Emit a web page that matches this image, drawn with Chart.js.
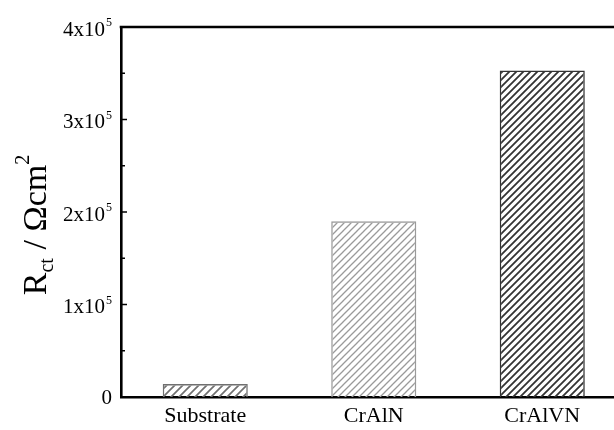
<!DOCTYPE html>
<html>
<head>
<meta charset="utf-8">
<script src="https://cdn.jsdelivr.net/npm/chart.js@4/dist/chart.umd.min.js"></script>
<style>
  html, body { margin: 0; padding: 0; background: #fff; overflow: hidden; }
  #wrap { width: 630px; height: 430px; }
</style>
</head>
<body>
<div id="wrap"><canvas id="c" width="630" height="430"></canvas></div>
<script>
  // data
  var categories = ['Substrate', 'CrAlN', 'CrAlVN'];
  var rctValues = [14000, 190000, 353000];
  var yMajorTicks = [0, 100000, 200000, 300000, 400000];
  var yMajorLabels = ['0', '1x10', '2x10', '3x10', '4x10'];
  var yLabelExp = ['', '5', '5', '5', '5'];

  var hatchColors = ['#707070', '#9a9a9a', '#333333'];
  var hatchGaps = [8, 7, 7];
  var hatchWidths = [1.7, 1.3, 1.8];
  var SERIF = "'Liberation Serif', 'Times New Roman', serif";

  function hatch(color, gap, lw) {
    var c = document.createElement('canvas');
    c.width = gap; c.height = gap;
    var g = c.getContext('2d');
    g.strokeStyle = color;
    g.lineWidth = lw;
    g.beginPath();
    g.moveTo(-1, gap + 1); g.lineTo(gap + 1, -1);
    g.moveTo(-2, 2); g.lineTo(2, -2);
    g.moveTo(gap - 2, gap + 2); g.lineTo(gap + 2, gap - 2);
    g.stroke();
    return document.getElementById('c').getContext('2d').createPattern(c, 'repeat');
  }

  // frame, inward ticks, tick labels and axis title
  var decor = {
    id: 'decor',
    afterDraw: function(ch) {
      var ctx = ch.ctx, a = ch.chartArea, y = ch.scales.y;
      ctx.save();
      ctx.strokeStyle = '#000';
      ctx.lineWidth = 2.6;
      ctx.beginPath();
      ctx.moveTo(a.left - 1.3, a.top);
      ctx.lineTo(ch.width, a.top);
      ctx.stroke();

      ctx.lineWidth = 1.6;
      ctx.beginPath();
      for (var v = 50000; v < 400000; v += 50000) {
        var py = y.getPixelForValue(v);
        var len = (v % 100000 === 0) ? 6 : 4;
        ctx.moveTo(a.left, py); ctx.lineTo(a.left + len, py);
      }
      ctx.stroke();

      ctx.fillStyle = '#000';
      yMajorTicks.forEach(function(v, i) {
        var py = y.getPixelForValue(v);
        var right = 112;
        ctx.textBaseline = 'middle';
        ctx.textAlign = 'right';
        if (yLabelExp[i]) {
          ctx.font = '12px ' + SERIF;
          ctx.fillText(yLabelExp[i], right, py - 4);
          var ew = ctx.measureText(yLabelExp[i]).width;
          ctx.font = '21px ' + SERIF;
          ctx.fillText(yMajorLabels[i], right - ew - 1, py + 3);
        } else {
          ctx.font = '21px ' + SERIF;
          ctx.fillText(yMajorLabels[i], right, py + 1);
        }
      });

      // rotated title: R_ct / Ωcm^2
      ctx.translate(35, 225);
      ctx.rotate(-Math.PI / 2);
      var parts = [
        { t: 'R', f: 34, dy: 0 },
        { t: 'ct', f: 20, dy: 7 },
        { t: ' / \u03A9cm', f: 34, dy: 0 },
        { t: '2', f: 20, dy: -17 }
      ];
      var total = 0;
      parts.forEach(function(p) { ctx.font = p.f + 'px ' + SERIF; p.w = ctx.measureText(p.t).width; total += p.w; });
      var x = -total / 2;
      ctx.textAlign = 'left';
      ctx.textBaseline = 'alphabetic';
      parts.forEach(function(p) {
        ctx.font = p.f + 'px ' + SERIF;
        ctx.fillText(p.t, x, 11 + p.dy);
        x += p.w;
      });
      ctx.restore();
    }
  };

  new Chart(document.getElementById('c'), {
    type: 'bar',
    data: {
      labels: categories,
      datasets: [{
        data: rctValues,
        backgroundColor: hatchColors.map(function(c, i) { return hatch(c, hatchGaps[i], hatchWidths[i]); }),
        borderColor: hatchColors,
        borderWidth: 1.4,
        barPercentage: 0.505,
        categoryPercentage: 1
      }]
    },
    options: {
      responsive: false,
      animation: false,
      events: [],
      layout: { padding: { top: 27, right: 3.5, left: 0, bottom: 0 } },
      plugins: { legend: { display: false }, tooltip: { enabled: false } },
      scales: {
        x: {
          grid: { display: false, drawTicks: false },
          border: { color: '#000', width: 2.6 },
          ticks: { color: '#000', padding: 6, font: { family: SERIF, size: 22 } },
          afterFit: function(s) { s.height = 33; }
        },
        y: {
          min: 0, max: 400000,
          grid: { display: false, drawTicks: false },
          border: { color: '#000', width: 2.6 },
          ticks: { display: false, stepSize: 50000 },
          afterFit: function(s) { s.width = 121; }
        }
      }
    },
    plugins: [decor]
  });
</script>
</body>
</html>
